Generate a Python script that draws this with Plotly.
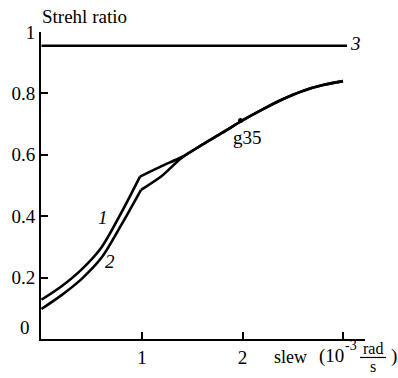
import plotly.graph_objects as go

# Data
slew_1 = [0, 0.2, 0.4, 0.6, 0.8, 0.98, 1.2, 1.39, 1.6, 1.8, 2.0, 2.2, 2.4, 2.6, 2.8, 3.0]
strehl_1 = [0.128, 0.172, 0.227, 0.300, 0.415, 0.529, 0.564, 0.592, 0.633, 0.672, 0.712, 0.748, 0.781, 0.808, 0.827, 0.840]
slew_2 = [0, 0.2, 0.4, 0.6, 0.8, 0.99, 1.2, 1.39, 1.6, 1.8, 2.0, 2.2, 2.4, 2.6, 2.8, 3.0]
strehl_2 = [0.098, 0.143, 0.196, 0.266, 0.375, 0.486, 0.532, 0.589, 0.633, 0.672, 0.712, 0.748, 0.781, 0.808, 0.827, 0.840]
kink_index = 5
slew_3 = [0, 3.04]
strehl_3 = [0.955, 0.955]
g35_x = [1.98]
g35_y = [0.712]

ytick_vals = [0.2, 0.4, 0.6, 0.8, 1.0]
ytick_text = ["0.2", "0.4", "0.6", "0.8", "1"]
xtick_vals = [1, 2, 3]
xtick_text = ["1", "2", ""]

FONT = "Liberation Serif, Times New Roman, DejaVu Serif, serif"

fig = go.Figure()
for xs, ys in [(slew_1, strehl_1), (slew_2, strehl_2)]:
    k = kink_index
    for sx, sy in [(xs[:k + 1], ys[:k + 1]), (xs[k:], ys[k:])]:
        fig.add_trace(go.Scatter(x=sx, y=sy, mode="lines",
                                 line=dict(color="black", width=2.6, shape="spline", smoothing=0.8),
                                 showlegend=False, hoverinfo="skip"))
fig.add_trace(go.Scatter(x=slew_3, y=strehl_3, mode="lines",
                         line=dict(color="black", width=2.6),
                         showlegend=False, hoverinfo="skip"))
fig.add_trace(go.Scatter(x=g35_x, y=g35_y, mode="markers",
                         marker=dict(color="black", size=5), showlegend=False, hoverinfo="skip"))

L, R, T, B = 41, 33, 32, 38.5
W, H = 398, 378
pw, ph = W - L - R, H - T - B


def px(xp):
    return (xp - L) / pw


def py(yp):
    return (H - B - yp) / ph


fig.update_layout(
    width=W, height=H,
    margin=dict(l=L, r=R, t=T, b=B, pad=0, autoexpand=False),
    paper_bgcolor="white", plot_bgcolor="white",
    font=dict(family=FONT, size=19, color="black"),
    xaxis=dict(range=[-0.005, pw / 100.5 - 0.005], showline=True, linecolor="black", linewidth=2,
               ticks="inside", ticklen=7, tickwidth=1.5, tickcolor="black",
               tickvals=xtick_vals, ticktext=xtick_text, showgrid=False, zeroline=False,
               automargin=False, tickfont=dict(family=FONT, size=19)),
    yaxis=dict(range=[0, 1.0], showline=True, linecolor="black", linewidth=2,
               ticks="inside", ticklen=7, tickwidth=1.5, tickcolor="black",
               tickvals=ytick_vals, ticktext=ytick_text, showgrid=False, zeroline=False,
               automargin=False, tickfont=dict(family=FONT, size=19)),
)


def ann(text, xp, yp, size=19, xanchor="center", italic=False):
    if italic:
        text = "<i>" + text + "</i>"
    fig.add_annotation(text=text, x=px(xp), y=py(yp), xref="paper", yref="paper",
                       showarrow=False, xanchor=xanchor, yanchor="middle",
                       font=dict(family=FONT, size=size, color="black"))


ann("Strehl ratio", 40, 16, xanchor="left")
ann("0", 32, 328, xanchor="right")
ann("1", 103, 218, italic=True)
ann("2", 110, 262, italic=True)
ann("3", 355, 44, italic=True)
ann("g35", 247, 138)
ann("slew", 290, 358, size=18)
ann("(10", 317, 357, xanchor="left", size=19)
ann("-3", 343, 346, xanchor="left", size=14)
ann("rad", 373, 349, size=16)
ann("s", 373, 367, size=16)
ann(")", 389, 357, xanchor="left", size=19)
fig.add_shape(type="line", xref="paper", yref="paper",
              x0=px(360), x1=px(386), y0=py(358), y1=py(358),
              line=dict(color="black", width=1.2))

fig.write_html("out.html", config={"displayModeBar": False},
               post_script="document.body.style.margin='0px';document.body.style.overflow='hidden';")
